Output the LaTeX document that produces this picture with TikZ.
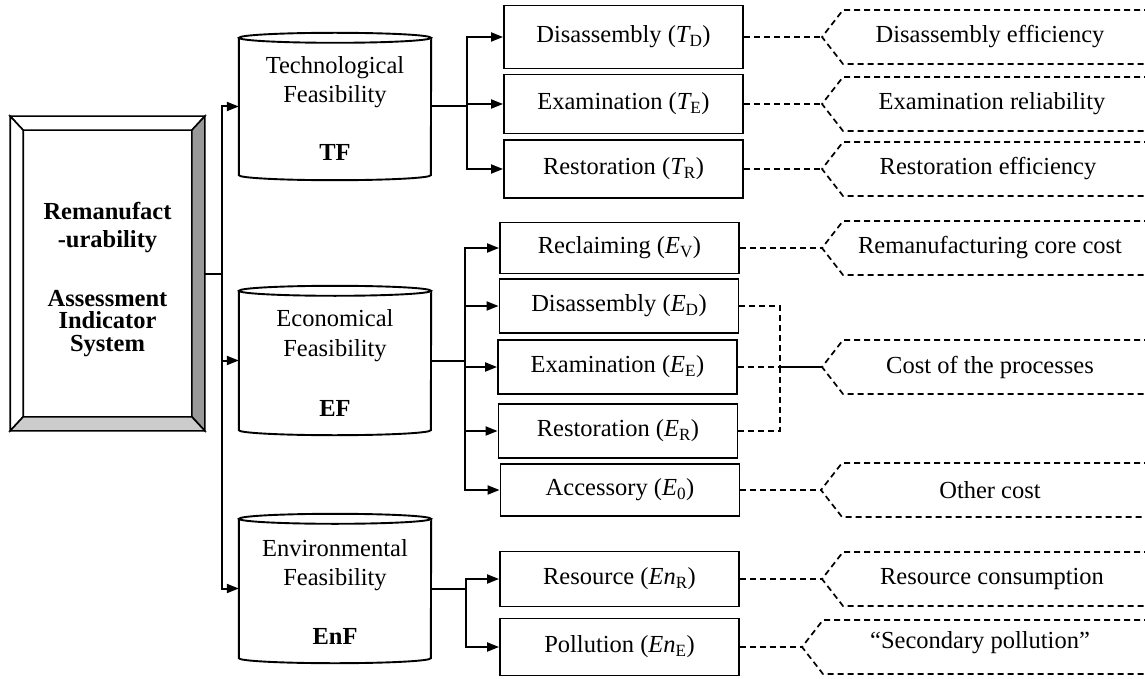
\documentclass[tikz,border=0pt]{standalone}
\usepackage{fontspec}
\setmainfont{Liberation Serif}
\usetikzlibrary{arrows.meta}
\tikzset{
  txt/.style={font=\fontsize{24.5}{27}\selectfont, inner sep=0pt},
  btxt/.style={font=\fontsize{24.5}{27}\selectfont\bfseries, inner sep=0pt, align=center},
  pbox/.style={draw, line width=1.9pt, minimum width=239pt, inner sep=0pt, font=\fontsize{24.5}{27}\selectfont},
  cylbox/.style={minimum width=192pt, inner sep=0pt},
  conn/.style={line width=2pt},
  arr/.style={line width=2pt, -{Triangle[length=12pt,width=9pt]}},
  dsh/.style={line width=1.7pt, dash pattern=on 6pt off 4pt},
  face/.style={draw, line width=1.6pt, line join=miter}
}
\newcommand{\mkcallout}[3]{%
  \coordinate (#1) at (#3,#2);
  \draw[dsh] (1150,#2-27) -- (#3+21,#2-27) -- (#1) -- (#3+21,#2+27) -- (1150,#2+27);
}
\newcommand{\mkcyl}[1]{%
  \path[fill=white] ([yshift=-5pt]#1.north west) -- ([yshift=5pt]#1.south west)
     arc[start angle=180, end angle=360, x radius=96pt, y radius=5pt]
     -- ([yshift=-5pt]#1.north east) -- cycle;
  \draw[line width=1.9pt] ([yshift=-5pt]#1.north west) -- ([yshift=5pt]#1.south west)
     arc[start angle=180, end angle=360, x radius=96pt, y radius=5pt]
     -- ([yshift=-5pt]#1.north east);
  \draw[line width=1.9pt, fill=white] ([yshift=-5pt]#1.north) ellipse[x radius=96pt, y radius=5pt];
}
\begin{document}
\begin{tikzpicture}[x=1pt,y=-1pt]
\useasboundingbox (0,0) rectangle (1145,679);

% main bevel box
\node[draw, line width=1.6pt, minimum width=193pt, minimum height=313pt, inner sep=0pt] (main) at (107.5,273.5) {};
\draw[face, fill=white] (main.north west) -- (main.north east) -- ([shift={(-13pt,-14pt)}]main.north east) -- ([shift={(13pt,-14pt)}]main.north west) -- cycle;
\draw[face, fill=white] (main.north west) -- ([shift={(13pt,-14pt)}]main.north west) -- ([shift={(13pt,14pt)}]main.south west) -- (main.south west) -- cycle;
\draw[face, fill=black!40] (main.north east) -- (main.south east) -- ([shift={(-13pt,14pt)}]main.south east) -- ([shift={(-13pt,-14pt)}]main.north east) -- cycle;
\draw[face, fill=black!20] (main.south west) -- (main.south east) -- ([shift={(-13pt,14pt)}]main.south east) -- ([shift={(13pt,14pt)}]main.south west) -- cycle;
\node[btxt, anchor=north, font=\fontsize{24.5}{27.5}\selectfont\bfseries] (m1) at (107.5,202.5) {Remanufact\\-urability};
\node[btxt, anchor=north, font=\fontsize{24.5}{22.5}\selectfont\bfseries] (m2) at (107.5,290) {Assessment\\Indicator\\System};

% cylinders
\node[cylbox, minimum height=147pt] (tf) at (335,106.5) {};
\node[cylbox, minimum height=149pt] (ef) at (335,360.5) {};
\node[cylbox, minimum height=149pt] (enf) at (335,588.5) {};
\mkcyl{tf}
\mkcyl{ef}
\mkcyl{enf}
\node[txt, anchor=base] (tf1) at (335,73.3) {Technological};
\node[txt, anchor=base] (tf2) at (335,102.5) {Feasibility};
\node[txt, anchor=base, font=\fontsize{24.5}{27}\selectfont\bfseries] (tf3) at (335,161) {TF};
\node[txt, anchor=base] (ef1) at (335,326.7) {Economical};
\node[txt, anchor=base] (ef2) at (335,356) {Feasibility};
\node[txt, anchor=base, font=\fontsize{24.5}{27}\selectfont\bfseries] (ef3) at (335,416) {EF};
\node[txt, anchor=base] (en1) at (335,556) {Environmental};
\node[txt, anchor=base] (en2) at (335,585) {Feasibility};
\node[txt, anchor=base, font=\fontsize{24.5}{27}\selectfont\bfseries] (en3) at (335,644.3) {EnF};

% main connectors
\coordinate (j0) at (222,273.5);
\draw[conn] (main.east) -- (j0);
\draw[arr] (j0) |- (tf.west);
\draw[arr] (j0) |- (ef.west);
\draw[arr] (j0) |- (enf.west);

% T boxes
\node[pbox, minimum height=63pt] (td) at (623.5,37) {Disassembly ({\itshape T}\textsubscript{D})};
\node[pbox, minimum height=59pt] (te) at (623.5,104) {Examination ({\itshape T}\textsubscript{E})};
\node[pbox, minimum height=58pt] (tr) at (623.5,169) {Restoration ({\itshape T}\textsubscript{R})};
% E boxes
\node[pbox, minimum height=51pt] (ev) at (619.5,248) {Reclaiming ({\itshape E}\textsubscript{V})};
\node[pbox, minimum height=54pt] (ed) at (619,306) {Disassembly ({\itshape E}\textsubscript{D})};
\node[pbox, minimum height=54pt] (ee) at (617.5,367) {Examination ({\itshape E}\textsubscript{E})};
\node[pbox, minimum height=54pt] (er) at (618,431) {Restoration ({\itshape E}\textsubscript{R})};
\node[pbox, minimum height=52pt] (e0) at (620,490) {Accessory ({\itshape E}\textsubscript{0})};
% En boxes
\node[pbox, minimum height=55pt] (enr) at (619.5,579) {Resource ({\itshape En}\textsubscript{R})};
\node[pbox, minimum height=57pt] (ene) at (619.5,647) {Pollution ({\itshape En}\textsubscript{E})};

% branch connectors
\coordinate (jt) at (467,106.5);
\draw[conn] (tf.east) -- (jt);
\draw[arr] (jt) |- (td.west);
\draw[arr] (jt) |- (te.west);
\draw[arr] (jt) |- (tr.west);
\coordinate (je) at (465,360.5);
\draw[conn] (ef.east) -- (je);
\draw[arr] (je) |- (ev.west);
\draw[arr] (je) |- (ed.west);
\draw[arr] (je) |- (ee.west);
\draw[arr] (je) |- (er.west);
\draw[arr] (je) |- (e0.west);
\coordinate (jn) at (466,588.5);
\draw[conn] (enf.east) -- (jn);
\draw[arr] (jn) |- (enr.west);
\draw[arr] (jn) |- (ene.west);

% callouts
\mkcallout{c1}{37}{822}
\mkcallout{c2}{104}{822}
\mkcallout{c3}{169}{822}
\mkcallout{c4}{248}{822}
\mkcallout{c5}{367}{822}
\mkcallout{c6}{490}{821}
\mkcallout{c7}{579}{822}
\mkcallout{c8}{647}{802}
\node[txt] (c1t) at (990,37) {Disassembly efficiency};
\node[txt] (c2t) at (992,104) {Examination reliability};
\node[txt] (c3t) at (988,169) {Restoration efficiency};
\node[txt] (c4t) at (990,248) {Remanufacturing core cost};
\node[txt] (c5t) at (990,367) {Cost of the processes};
\node[txt] (c6t) at (990,490) {Other cost};
\node[txt] (c7t) at (992,579) {Resource consumption};
\node[txt] (c8t) at (980,643) {“Secondary pollution”};

% dashed links
\draw[dsh] (td.east) -- (c1);
\draw[dsh] (te.east) -- (c2);
\draw[dsh] (tr.east) -- (c3);
\draw[dsh] (ev.east) -- (c4);
\coordinate (bk) at (780,367);
\draw[dsh] (ed.east) -| (bk);
\draw[dsh] (er.east) -| (bk);
\draw[dsh] (ee.east) -- (bk);
\draw[line width=1.7pt] (bk) -- (c5);
\draw[dsh] (e0.east) -- (c6);
\draw[dsh] (enr.east) -- (c7);
\draw[dsh] (ene.east) -- (c8);
\end{tikzpicture}
\end{document}
